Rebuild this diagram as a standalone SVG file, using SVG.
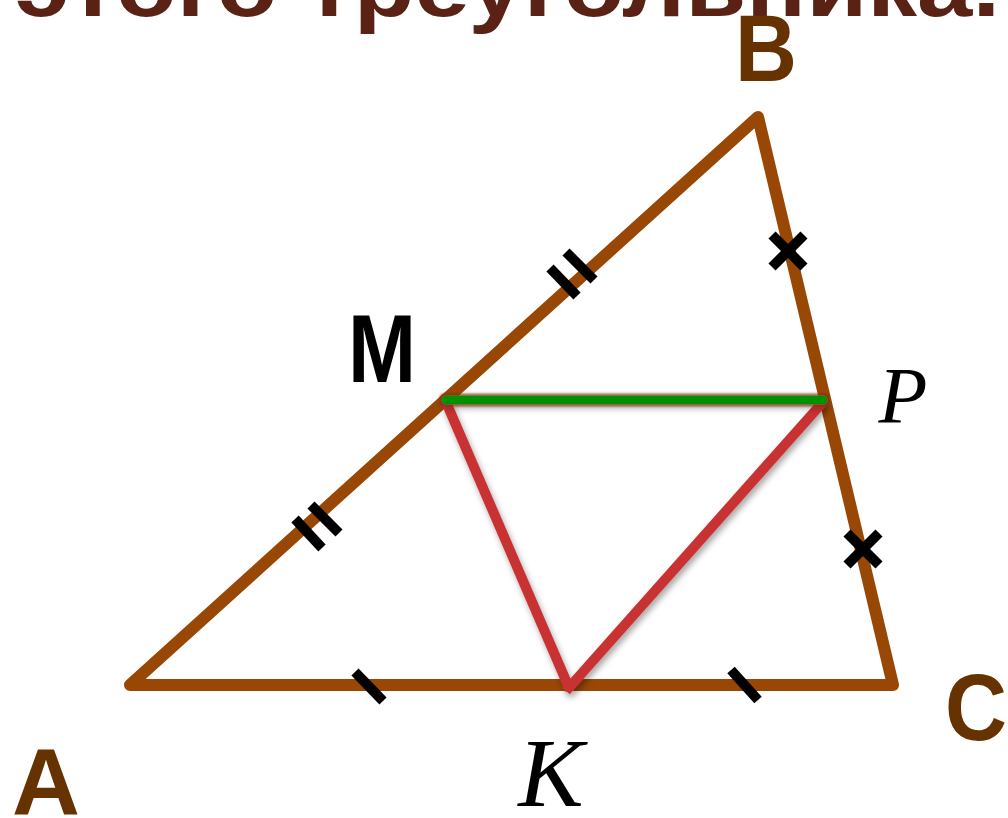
<svg xmlns="http://www.w3.org/2000/svg" width="1008" height="818" viewBox="0 0 1008 818">
<style>
.side{fill:none;stroke:#994705;stroke-width:12;stroke-linejoin:round;stroke-linecap:round}
.red{stroke:#c83232;stroke-width:10;stroke-linecap:butt}
.green{stroke:#009000;stroke-width:9;stroke-linecap:round}
.tick{stroke:#000;stroke-width:10;stroke-linecap:butt}
.lbl{font-family:"Liberation Sans",Arial,sans-serif;font-weight:bold;text-anchor:middle}
.scr{font-family:"Liberation Serif","Times New Roman",serif;font-style:italic;fill:#000;text-anchor:middle}
</style>
<defs>
<filter id="sh" filterUnits="userSpaceOnUse" x="400" y="350" width="480" height="380">
<feDropShadow dx="2" dy="4" stdDeviation="3" flood-color="#000" flood-opacity="0.35"/>
</filter>
<filter id="gl" filterUnits="userSpaceOnUse" x="420" y="380" width="430" height="40">
<feMorphology in="SourceAlpha" operator="dilate" radius="2" result="d"/>
<feGaussianBlur in="d" stdDeviation="1.2" result="b"/>
<feFlood flood-color="#8a2a20" flood-opacity="0.75"/>
<feComposite in2="b" operator="in" result="o"/>
<feGaussianBlur in="SourceAlpha" stdDeviation="3" result="sb"/>
<feOffset in="sb" dx="2" dy="4" result="so"/>
<feFlood flood-color="#000" flood-opacity="0.3"/>
<feComposite in2="so" operator="in" result="s"/>
<feMerge><feMergeNode in="s"/><feMergeNode in="o"/><feMergeNode in="SourceGraphic"/></feMerge>
</filter>
</defs>
<text id="title" x="15" y="16" class="lbl" style="text-anchor:start;font-size:88px" fill="#5a2214" textLength="985" lengthAdjust="spacingAndGlyphs">этого треугольника.</text>
<g id="triangle">
<polygon class="side" points="130,685 758,117 893,685"/>
</g>
<g id="connectors">
<g filter="url(#sh)">
<line class="red" x1="446" y1="402" x2="570" y2="690"/>
<line class="red" x1="823" y1="402" x2="566" y2="691"/>
</g>
<line class="green" x1="446" y1="400" x2="823" y2="400" filter="url(#gl)"/>
</g>
<g id="ticks">
<line class="tick" x1="550" y1="268" x2="577" y2="296"/>
<line class="tick" x1="566" y1="252" x2="594" y2="280"/>
<line class="tick" x1="295" y1="519" x2="322" y2="548"/>
<line class="tick" x1="311" y1="505" x2="339" y2="533"/>
<line class="tick" x1="355" y1="672" x2="383" y2="701"/>
<line class="tick" x1="731" y1="670" x2="758" y2="700"/>
<line class="tick" x1="772" y1="235" x2="804" y2="267"/>
<line class="tick" x1="804" y1="235" x2="772" y2="267"/>
<line class="tick" x1="847" y1="533" x2="879" y2="565"/>
<line class="tick" x1="879" y1="533" x2="847" y2="565"/>
</g>
<g id="node-B"><text class="lbl" x="766" y="81" style="font-size:95px" fill="#663300" textLength="62" lengthAdjust="spacingAndGlyphs">B</text></g>
<g id="node-A"><text class="lbl" x="46" y="815" style="font-size:95px" fill="#663300" textLength="68" lengthAdjust="spacingAndGlyphs">A</text></g>
<g id="node-C"><text class="lbl" x="976" y="740" style="font-size:95px" fill="#663300" textLength="62" lengthAdjust="spacingAndGlyphs">C</text></g>
<g id="node-M"><text class="lbl" x="382" y="382" style="font-size:97px" fill="#000" textLength="68" lengthAdjust="spacingAndGlyphs">M</text></g>
<g id="node-K"><text class="scr" x="551" y="806" style="font-size:98px">K</text></g>
<g id="node-P"><text class="scr" x="903" y="423" style="font-size:80px">P</text></g>
</svg>
